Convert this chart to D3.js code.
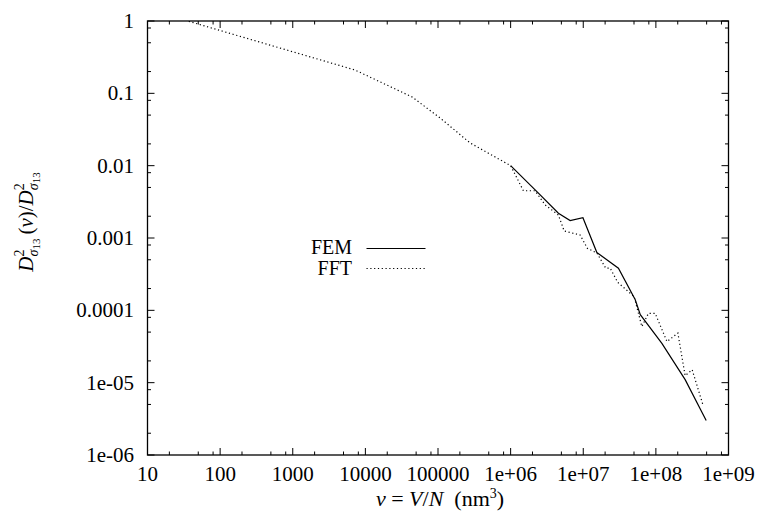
<!DOCTYPE html>
<html>
<head>
<meta charset="utf-8">
<script src="https://cdn.jsdelivr.net/npm/d3@7/dist/d3.min.js"></script>
<style>
  body { margin: 0; background: #fff; }
  text { font-family: "Liberation Serif", "DejaVu Serif", serif; fill: #000; }
</style>
</head>
<body>
<div id="chart"></div>
<script>
//tick values and their labels (gnuplot style)
var xTicks = [1e1, 1e2, 1e3, 1e4, 1e5, 1e6, 1e7, 1e8, 1e9];
var xTickLabels = ["10", "100", "1000", "10000", "100000", "1e+06", "1e+07", "1e+08", "1e+09"];
var yTicks = [1, 1e-1, 1e-2, 1e-3, 1e-4, 1e-5, 1e-6];
var yTickLabels = ["1", "0.1", "0.01", "0.001", "0.0001", "1e-05", "1e-06"];

//FEM series (solid)
var femV = [1e6, 2.3e6, 4.55e6, 6.6e6, 9.9e6, 1.54e7, 3.05e7, 5.2e7, 6.1e7, 1.21e8, 2.53e8, 4.93e8];
var femD = [0.01, 4.37e-3, 2.2e-3, 1.74e-3, 1.91e-3, 6.3e-4, 3.83e-4, 1.4e-4, 8.7e-5, 3.5e-5, 1.1e-5, 3.0e-6];

//FFT series (dotted)
var fftV = [37, 7210, 44000, 107000, 277000, 1e6, 1.5e6, 2.17e6, 2.99e6, 4.55e6, 5.46e6, 9.06e6,
            1.14e7, 1.54e7, 2.04e7, 2.35e7, 2.98e7, 5.02e7, 6.41e7, 7.91e7, 9.78e7, 1.42e8, 2.01e8,
            2.53e8, 3.16e8, 4.44e8];
var fftD = [0.99, 0.21, 0.089, 0.0456, 0.0206, 0.01, 4.5e-3, 4.5e-3, 2.86e-3, 2.08e-3, 1.25e-3, 1.1e-3,
            7.2e-4, 6.2e-4, 3.83e-4, 3.83e-4, 2.44e-4, 1.55e-4, 5.97e-5, 9.1e-5, 9.1e-5, 3.7e-5, 4.84e-5,
            1.25e-5, 1.51e-5, 4.95e-6];

var W = 764, H = 517;
var plot = {left: 147.5, right: 728.5, top: 21, bottom: 455};

var svg = d3.select("#chart").append("svg")
  .attr("width", W)
  .attr("height", H);

var x = d3.scaleLog().domain([10, 1e9]).range([plot.left, plot.right]);
var y = d3.scaleLog().domain([1e-6, 1]).range([plot.bottom, plot.top]);

//minor ticks at 2, 5, 8 inside every decade
var minorX = [], minorY = [];
xTicks.slice(0, -1).forEach(function(t) { [2, 5, 8].forEach(function(m) { minorX.push(t * m); }); });
yTicks.slice(1).forEach(function(t) { [2, 5, 8].forEach(function(m) { minorY.push(t * m); }); });

//draw ticks on all four sides, pointing inward
function drawTicks(g, vals, len) {
  g.selectAll(null).data(vals).enter().append("line")
    .attr("x1", function(d) { return x(d); }).attr("x2", function(d) { return x(d); })
    .attr("y1", plot.bottom).attr("y2", plot.bottom - len);
  g.selectAll(null).data(vals).enter().append("line")
    .attr("x1", function(d) { return x(d); }).attr("x2", function(d) { return x(d); })
    .attr("y1", plot.top).attr("y2", plot.top + len);
}
function drawYTicks(g, vals, len) {
  g.selectAll(null).data(vals).enter().append("line")
    .attr("y1", function(d) { return y(d); }).attr("y2", function(d) { return y(d); })
    .attr("x1", plot.left).attr("x2", plot.left + len);
  g.selectAll(null).data(vals).enter().append("line")
    .attr("y1", function(d) { return y(d); }).attr("y2", function(d) { return y(d); })
    .attr("x1", plot.right).attr("x2", plot.right - len);
}

var ticks = svg.append("g").attr("class", "ticks")
  .attr("stroke", "#000").attr("stroke-width", 1);
drawTicks(ticks, xTicks, 7);
drawTicks(ticks, minorX, 3.5);
drawYTicks(ticks, yTicks, 7);
drawYTicks(ticks, minorY, 3.5);

//tick labels
svg.append("g").selectAll("text").data(xTicks).enter().append("text")
  .attr("x", function(d) { return x(d); })
  .attr("y", 481)
  .attr("text-anchor", "middle")
  .attr("font-size", 21)
  .text(function(d, i) { return xTickLabels[i]; });

svg.append("g").selectAll("text").data(yTicks).enter().append("text")
  .attr("x", 134)
  .attr("y", function(d) { return y(d); })
  .attr("dy", "0.33em")
  .attr("text-anchor", "end")
  .attr("font-size", 21)
  .text(function(d, i) { return yTickLabels[i]; });

//clip the curves to the plot box
svg.append("clipPath").attr("id", "clip").append("rect")
  .attr("x", plot.left).attr("y", plot.top)
  .attr("width", plot.right - plot.left).attr("height", plot.bottom - plot.top);

var line = d3.line()
  .x(function(d) { return x(d[0]); })
  .y(function(d) { return y(d[1]); });

svg.append("path")
  .attr("clip-path", "url(#clip)")
  .attr("d", line(d3.zip(fftV, fftD)))
  .attr("fill", "none")
  .attr("stroke", "#000")
  .attr("stroke-width", 1.2)
  .attr("stroke-dasharray", "1.2,2.6");

svg.append("path")
  .attr("clip-path", "url(#clip)")
  .attr("d", line(d3.zip(femV, femD)))
  .attr("fill", "none")
  .attr("stroke", "#000")
  .attr("stroke-width", 1.2);

//border
svg.append("rect")
  .attr("x", plot.left).attr("y", plot.top)
  .attr("width", plot.right - plot.left).attr("height", plot.bottom - plot.top)
  .attr("fill", "none").attr("stroke", "#000").attr("stroke-width", 1.3);

//legend
var legend = svg.append("g").attr("class", "legend");
legend.append("text").attr("x", 352).attr("y", 254).attr("text-anchor", "end")
  .attr("font-size", 20).text("FEM");
legend.append("text").attr("x", 352).attr("y", 275).attr("text-anchor", "end")
  .attr("font-size", 20).text("FFT");
legend.append("line").attr("x1", 366.5).attr("x2", 425.5).attr("y1", 248.5).attr("y2", 248.5)
  .attr("stroke", "#000").attr("stroke-width", 1.2);
legend.append("line").attr("x1", 366.5).attr("x2", 425.5).attr("y1", 268.5).attr("y2", 268.5)
  .attr("stroke", "#000").attr("stroke-width", 1.2).attr("stroke-dasharray", "1.2,2.6");

//x axis label: v = V/N (nm^3)
var xl = svg.append("text").attr("x", 440).attr("y", 506)
  .attr("text-anchor", "middle").attr("font-size", 22)
  .style("white-space", "pre");
xl.append("tspan").attr("font-style", "italic").text("v");
xl.append("tspan").text(" = ");
xl.append("tspan").attr("font-style", "italic").text("V");
xl.append("tspan").text("/");
xl.append("tspan").attr("font-style", "italic").text("N");
xl.append("tspan").text("  (nm");
xl.append("tspan").attr("font-size", 14).attr("dy", -8).text("3");
xl.append("tspan").attr("dy", 8).text(")");

//y axis label: D^2_{sigma13}(v) / D^2_{sigma13}
var yl = svg.append("text")
  .attr("transform", "translate(33,222) rotate(-90)")
  .attr("text-anchor", "middle").attr("font-size", 21);
function dSigma(t) {
  t.append("tspan").attr("font-style", "italic").text("D");
  t.append("tspan").attr("font-size", 14).attr("dy", -9).text("2");
  t.append("tspan").attr("font-size", 14).attr("font-style", "italic").attr("dx", -7).attr("dy", 14).text("σ");
  t.append("tspan").attr("font-size", 11).attr("dy", 2).text("13");
}
dSigma(yl);
yl.append("tspan").attr("dy", -7).attr("dx", 4).text("(");
yl.append("tspan").attr("font-style", "italic").text("v");
yl.append("tspan").text(")/");
dSigma(yl);
</script>
</body>
</html>
